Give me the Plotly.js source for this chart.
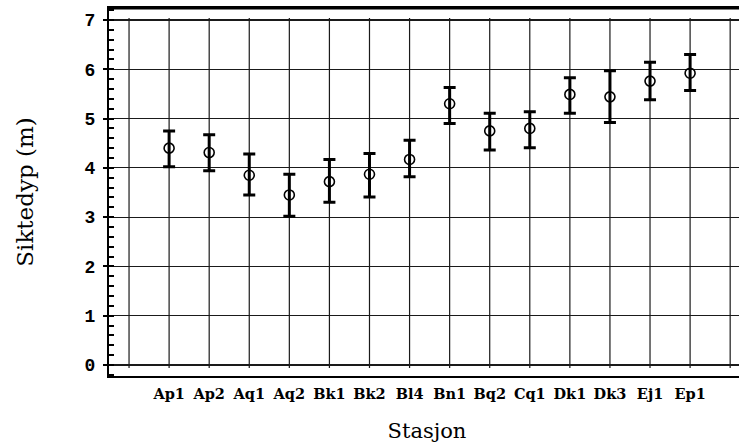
<!DOCTYPE html>
<html>
<head>
<meta charset="utf-8">
<script src="https://cdn.plot.ly/plotly-3.0.1.min.js"></script>
<style>
html,body{margin:0;padding:0;overflow:hidden;background:#fff;width:739px;height:448px;}
#chart{width:745px;height:448px;}
</style>
</head>
<body>
<div id="chart"></div>
<script>
// Stations (categories)
var stations = ["Ap1","Ap2","Aq1","Aq2","Bk1","Bk2","Bl4","Bn1","Bq2","Cq1","Dk1","Dk3","Ej1","Ep1"];
// Mean Secchi depth (m)
var meanDepth = [4.40,4.31,3.85,3.45,3.72,3.87,4.17,5.30,4.75,4.80,5.49,5.44,5.76,5.92];
// Upper end of error bar (m)
var upperDepth = [4.75,4.67,4.28,3.87,4.17,4.29,4.56,5.63,5.11,5.14,5.83,5.97,6.14,6.30];
// Lower end of error bar (m)
var lowerDepth = [4.02,3.94,3.45,3.02,3.30,3.41,3.82,4.90,4.36,4.41,5.11,4.92,5.38,5.57];
// Y-axis ticks
var yTicks = [0,1,2,3,4,5,6,7];

var xPos = stations.map(function(s,i){return i+1;});
var errPlus = upperDepth.map(function(u,i){return u-meanDepth[i];});
var errMinus = lowerDepth.map(function(l,i){return meanDepth[i]-l;});

// vertical grid positions: one before first and one after last station
var xGrid = [0].concat(xPos).concat([stations.length+1]);
var shapes = xGrid.map(function(g){
  return {type:'line', xref:'x', yref:'y', x0:g, x1:g,
    y0:yTicks[0]-0.06, y1:yTicks[yTicks.length-1]+0.04,
    line:{color:'#1a1a1a', width:1.2}, layer:'below'};
});
// thicker top frame line
shapes.push({type:'line', xref:'paper', yref:'paper', x0:0, x1:1, y0:1, y1:1,
  line:{color:'#000', width:3}});

var trace = {
  x: xPos, y: meanDepth, type:'scatter', mode:'markers',
  marker:{symbol:'circle-open', size:10, color:'#000', line:{color:'#000', width:1.6}},
  error_y:{type:'data', symmetric:false, array:errPlus, arrayminus:errMinus,
    color:'#000', thickness:3, width:6},
  hoverinfo:'skip', showlegend:false
};

var layout = {
  width:745, height:448,
  margin:{l:109, r:0, t:8, b:72},
  paper_bgcolor:'#fff', plot_bgcolor:'#fff',
  shapes: shapes,
  xaxis:{
    range:[-0.5, 15.37],
    tickvals: xPos, ticktext: stations,
    showgrid:false, zeroline:false,
    showline:true, mirror:true, linecolor:'#000', linewidth:2,
    ticks:'', ticklabelstandoff:4,
    tickfont:{family:'DejaVu Serif', size:14.5, color:'#000', weight:'bold'},
    title:{text:'Stasjon', font:{family:'DejaVu Serif', size:21, color:'#000'}, standoff:22}
  },
  yaxis:{
    range:[-0.223, 7.243],
    tickvals: yTicks,
    showgrid:true, gridcolor:'#1a1a1a', gridwidth:1.2,
    zeroline:false,
    showline:true, mirror:true, linecolor:'#000', linewidth:2,
    ticks:'outside', ticklen:4, tickwidth:2, tickcolor:'#000',
    ticklabelstandoff:4,
    minor:{dtick:0.2, ticks:'inside', ticklen:5, tickwidth:2, tickcolor:'#000', showgrid:false},
    tickfont:{family:'Liberation Mono', size:18, color:'#000', weight:'bold'},
    title:{text:'Siktedyp (m)', font:{family:'DejaVu Serif', size:23, color:'#000'}, standoff:45}
  }
};

Plotly.newPlot('chart', [trace], layout, {staticPlot:true, displayModeBar:false});
</script>
</body>
</html>
